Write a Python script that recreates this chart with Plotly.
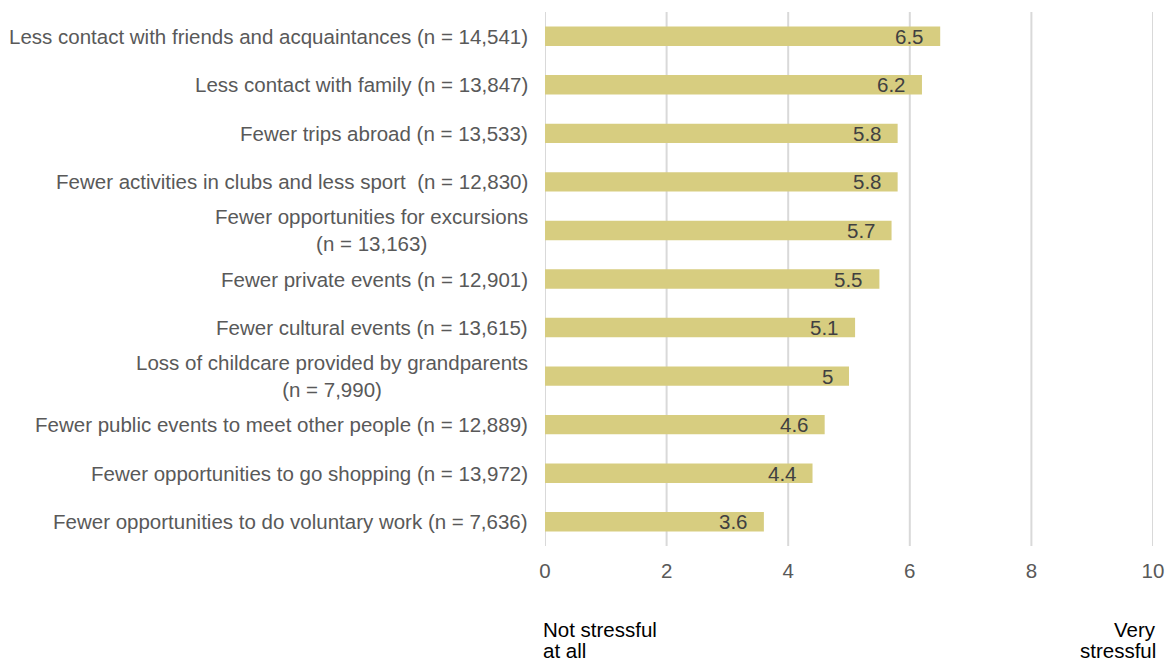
import plotly.graph_objects as go

categories = [
    "Less contact with friends and acquaintances (n = 14,541)",
    "Less contact with family (n = 13,847)",
    "Fewer trips abroad (n = 13,533)",
    "Fewer activities in clubs and less sport  (n = 12,830)",
    "Fewer opportunities for excursions<br>(n = 13,163)",
    "Fewer private events (n = 12,901)",
    "Fewer cultural events (n = 13,615)",
    "Loss of childcare provided by grandparents<br>(n = 7,990)",
    "Fewer public events to meet other people (n = 12,889)",
    "Fewer opportunities to go shopping (n = 13,972)",
    "Fewer opportunities to do voluntary work (n = 7,636)",
]
values = [6.5, 6.2, 5.8, 5.8, 5.7, 5.5, 5.1, 5.0, 4.6, 4.4, 3.6]
value_labels = ["6.5", "6.2", "5.8", "5.8", "5.7", "5.5", "5.1", "5", "4.6", "4.4", "3.6"]
tick_values = [0, 2, 4, 6, 8, 10]
scale_left = ["Not stressful", "at all"]
scale_right = ["Very", "stressful"]

FONT = "Liberation Sans"
FS = 20.5

fig = go.Figure()
fig.add_trace(go.Bar(
    x=values, y=categories, orientation="h",
    marker=dict(color="#d7cd80", line=dict(width=0)),
    width=0.4,
    hoverinfo="skip",
))

# value labels at bar ends
for cat, v, lab in zip(categories, values, value_labels):
    fig.add_annotation(x=v, y=cat, text=lab, showarrow=False, xanchor="right",
                       xshift=-14, font=dict(family=FONT, size=FS, color="#404040"))

# category labels (centered multi-line, right-anchored)
for cat in categories:
    fig.add_annotation(xref="paper", x=0, y=cat, text=cat, showarrow=False,
                       xanchor="right", align="center", xshift=-15,
                       font=dict(family=FONT, size=FS, color="#595959"))

# scale end labels
for i, (l, r) in enumerate(zip(scale_left, scale_right)):
    yy = -0.157 - i * 0.0395
    fig.add_annotation(xref="paper", yref="paper", x=0, y=yy, xanchor="left", yanchor="middle",
                       text=l, showarrow=False, xshift=-3, borderpad=0,
                       font=dict(family=FONT, size=FS, color="#000000"))
    fig.add_annotation(xref="paper", yref="paper", x=1, y=yy, xanchor="right", yanchor="middle",
                       text=r, showarrow=False, xshift=4, borderpad=0,
                       font=dict(family=FONT, size=FS, color="#000000"))

fig.update_layout(
    width=1166, height=664,
    margin=dict(l=545, r=13, t=12, b=118),
    paper_bgcolor="white", plot_bgcolor="white",
    showlegend=False,
    font=dict(family=FONT, size=FS, color="#595959"),
    xaxis=dict(range=[0, 10], tickvals=tick_values, showgrid=False,
               zeroline=False, showline=False, ticks="outside", ticklen=6,
               tickcolor="rgba(0,0,0,0)", tickfont=dict(family=FONT, size=FS, color="#595959"),
               automargin=False, fixedrange=True),
    yaxis=dict(categoryorder="array", categoryarray=categories[::-1], autorange=False,
               range=[-0.5, 10.5], showgrid=False, showticklabels=False, ticks="",
               showline=False, automargin=False),
)
# vertical gridlines at each tick (including both ends)
for tv in tick_values:
    fig.add_shape(type="line", xref="x", yref="paper", x0=tv, x1=tv, y0=0, y1=1,
                  line=dict(color="#d9d9d9", width=2), layer="below")

fig.write_html("out.html")
